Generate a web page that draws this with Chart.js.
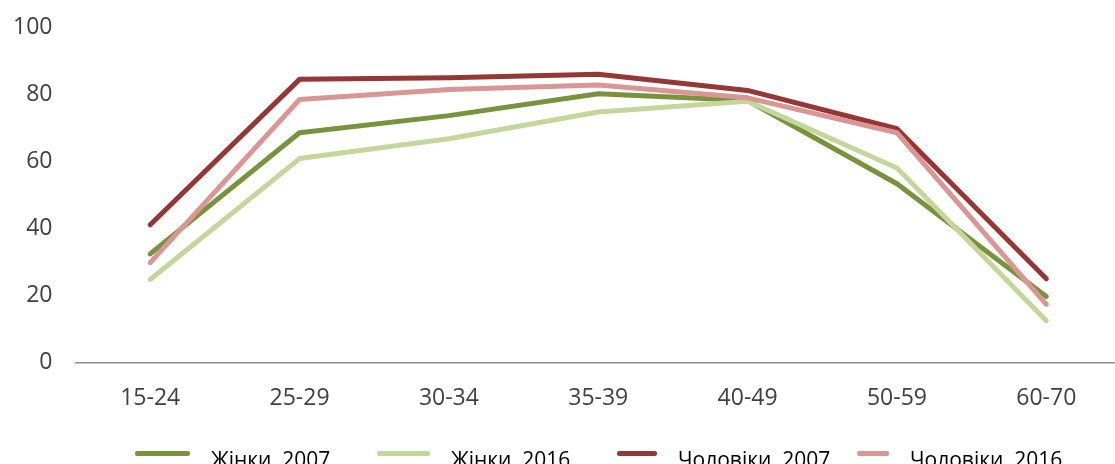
<!DOCTYPE html>
<html>
<head>
<meta charset="utf-8">
<script src="https://cdn.jsdelivr.net/npm/chart.js@4"></script>
<style>
    html, body { margin: 0; padding: 0; background: #fff; overflow: hidden; }
    #wrap { position: relative; width: 1122px; height: 464px; }
    #legend { position: absolute; top: 447px; left: 0; width: 1115px; height: 24px; font-family: "Open Sans", sans-serif; font-size: 21px; line-height: 24px; color: #000; }
    .swatch { position: absolute; top: 4px; height: 5px; border-radius: 2px; }
    .txt { position: absolute; top: 0; white-space: nowrap; }
</style>
</head>
<body>
<div id="wrap">
    <canvas id="employmentChart"></canvas>
    <div id="legend"></div>
</div>
<script>
// age groups
const ageGroups = ['15-24', '25-29', '30-34', '35-39', '40-49', '50-59', '60-70'];

// series values
const women2007 = [32.4, 68.5, 73.6, 80.1, 78.1, 53.3, 19.7];
const women2016 = [24.8, 60.8, 66.7, 74.7, 77.9, 58.0, 12.5];
const men2007 = [41.1, 84.4, 84.9, 85.9, 81.1, 69.7, 25.0];
const men2016 = [29.8, 78.4, 81.4, 82.7, 78.9, 68.5, 17.4];

const seriesLabels = ['Жінки, 2007', 'Жінки, 2016', 'Чоловіки, 2007', 'Чоловіки, 2016'];
const seriesColors = ['#77933C', '#C3D69B', '#953735', '#D99694'];
const seriesData = [women2007, women2016, men2007, men2016];

// legend swatch start / length (px), as in the original
const legendLeft = [135, 377, 617, 857];
const legendSwatch = [55, 53, 40, 32];

const canvas = document.getElementById('employmentChart');
canvas.width = 1122;
canvas.height = 464;

const datasets = seriesData.map((values, i) => ({
    label: seriesLabels[i],
    data: values,
    borderColor: seriesColors[i],
    backgroundColor: seriesColors[i],
    borderWidth: 5,
    pointRadius: 0,
    borderCapStyle: 'round',
    borderJoinStyle: 'round',
    tension: 0,
    fill: false,
    order: seriesData.length - i // later series drawn on top, like the original
}));

new Chart(canvas.getContext('2d'), {
    type: 'line',
    data: {
        labels: ageGroups,
        datasets: datasets
    },
    options: {
        responsive: false,
        animation: false,
        maintainAspectRatio: false,
        layout: { padding: { top: 27, right: 1, bottom: 0, left: 0 } },
        plugins: {
            legend: { display: false },
            tooltip: { enabled: false }
        },
        scales: {
            x: {
                offset: true,
                grid: { display: false, drawTicks: false },
                border: { display: true, color: '#8c8c8c', width: 1.5 },
                ticks: {
                    color: '#404040',
                    padding: 22,
                    font: { family: 'Open Sans', size: 23 }
                },
                afterFit: function (scale) {
                    scale.height = 101.3;
                    scale.paddingLeft = 0;
                    scale.paddingRight = 0;
                }
            },
            y: {
                min: 0,
                max: 100,
                grid: { display: false, drawTicks: false },
                border: { display: false },
                ticks: {
                    stepSize: 20,
                    color: '#404040',
                    padding: 23,
                    font: { family: 'Open Sans', size: 23 }
                },
                afterFit: function (scale) {
                    scale.width = 75.5;
                    scale.paddingTop = 0;
                    scale.paddingBottom = 0;
                }
            }
        }
    }
});

// legend below the chart
const legend = document.getElementById('legend');
seriesLabels.forEach((name, i) => {
    const sw = document.createElement('span');
    sw.className = 'swatch';
    sw.style.left = legendLeft[i] + 'px';
    sw.style.width = legendSwatch[i] + 'px';
    sw.style.background = seriesColors[i];
    const txt = document.createElement('span');
    txt.className = 'txt';
    txt.style.left = (legendLeft[i] + legendSwatch[i] + 21) + 'px';
    txt.textContent = name;
    legend.appendChild(sw);
    legend.appendChild(txt);
});
</script>
</body>
</html>
